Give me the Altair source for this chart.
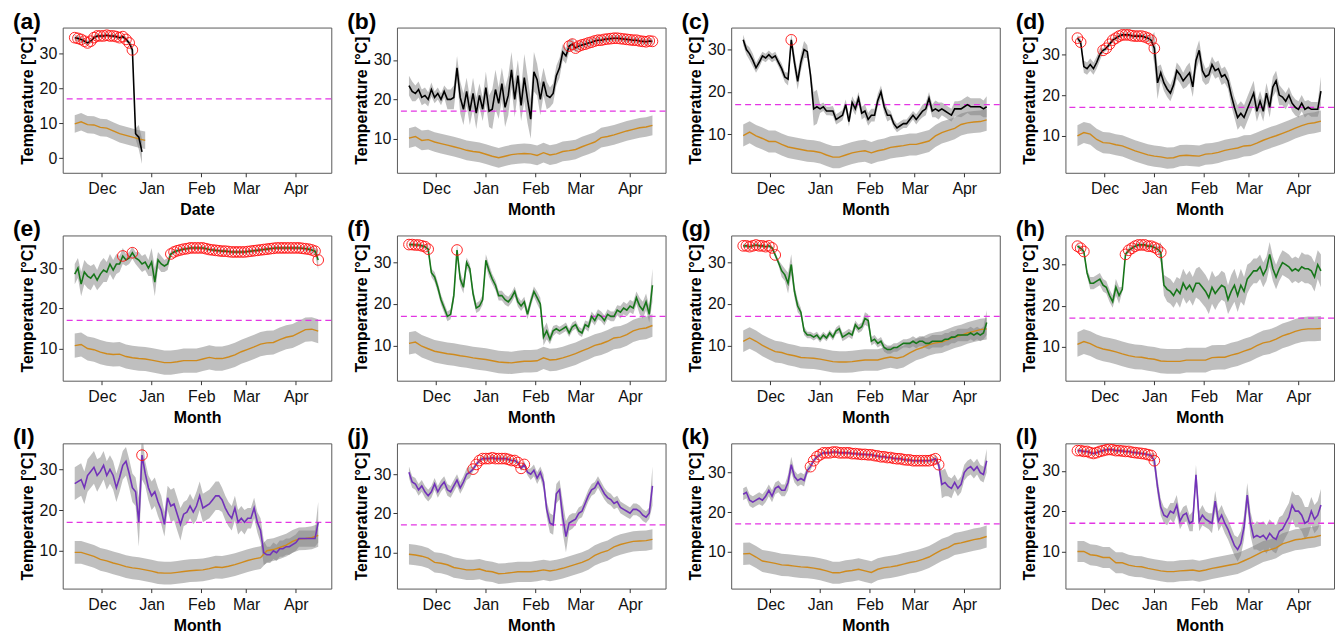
import altair as alt
import pandas as pd

START = "2018-11-14"
PANEL_LABELS = ["(a)", "(b)", "(c)", "(d)", "(e)", "(f)", "(g)", "(h)", "(I)", "(j)", "(k)", "(l)"]
X_TITLES = ["Date"] + ["Month"] * 11
LINE_COLORS = ["#000000"] * 4 + ["#17761a"] * 4 + ["#7232b9"] * 4
MONTH_TICKS = [(2018, 12), (2019, 1), (2019, 2), (2019, 3), (2019, 4)]
THRESHOLD = 17

# ---- logger temperature, every 2 days from 14 Nov ----
temp_a = [34.5, 34.3, 34, 33.5, 33, 33.5, 34.5, 35, 35, 35, 35.2, 35, 35, 34.8, 34.5, 34.8, 34, 33, 31, 7, 6, 1.8]
temp_b = [23.5, 22, 21.5, 22.5, 20.5, 21, 20, 22.5, 20.5, 21.5,
          20, 22, 20, 20, 20.5, 28, 20.5, 17.5, 22, 17,
          21.5, 16.5, 21, 17.5, 23, 17, 17.5, 22.5, 19, 24,
          18, 21, 27.5, 20, 26, 18.5, 25.5, 20, 15, 27,
          25, 20, 24.5, 21, 20.5, 21.5, 26, 28, 32, 31,
          33.5, 34, 33, 33.5, 33.8, 34, 34.3, 34.5, 34.8, 35,
          35, 35.2, 35.3, 35.4, 35.5, 35.5, 35.4, 35.3, 35.2, 35.1,
          35, 35, 34.8, 34.7, 34.6, 34.8, 34.7]
temp_c = [32.3, 30, 29, 27.5, 25.7, 27, 28.5, 28, 28.8, 28,
          28.5, 27, 25.5, 23.5, 23, 32.3, 27, 22.5, 27, 30,
          29.5, 24, 16, 16.5, 16, 16.5, 15.5, 15.5, 15.5, 13.5,
          14, 14.5, 17, 13, 17.5, 16, 18.5, 15, 15.5, 13.5,
          14.5, 14.5, 18, 20, 16.5, 14.5, 14.5, 12.5, 11.5, 12,
          12.5, 12.5, 13.5, 14.5, 13.5, 14.5, 15.5, 16, 18.5, 15.5,
          16, 15.5, 16, 15.5, 15, 14.5, 16, 16, 16, 16.5,
          17, 16.5, 16.5, 16.5, 16.5, 16, 16.5]
temp_d = [34, 33, 27, 26.5, 27.5, 26.5, 28, 30, 31, 31.5,
          32.5, 33.5, 34, 34.5, 34.8, 34.8, 34.8, 34.6, 34.5, 34.5,
          34.5, 34.3, 34, 33.5, 31.5, 23, 25.5, 23, 21.5, 20.5,
          22.5, 26, 25, 23.5, 24.5, 25.5, 22, 28.5, 31, 26,
          24.5, 25, 27.5, 26, 26.5, 24.5, 25, 23.5, 20, 17,
          14.5, 15.5, 14.5, 16.5, 18.5, 20.5, 16, 18.5, 16, 20.5,
          17, 22, 23.5, 20, 19.5, 18.5, 20, 18, 17, 16.5,
          18, 16.5, 17, 16.5, 16.5, 16.5, 21]
temp_e = [28.5, 30, 26, 29, 28, 27.5, 28.5, 27, 28.5, 29.5,
          29, 31, 29.5, 31, 31, 33, 32, 32.5, 33.8, 32.5,
          32, 31, 31.5, 30, 31.5, 26.5, 32, 31, 30.5, 31,
          33.5, 34, 34.3, 34.5, 34.7, 34.8, 35, 35, 35, 35,
          35, 34.8, 34.6, 34.5, 34.4, 34.3, 34.2, 34.2, 34.1, 34,
          34, 34, 34, 34, 34.1, 34.2, 34.3, 34.4, 34.5, 34.6,
          34.7, 34.8, 34.9, 35, 35, 35, 35, 35, 35, 35,
          35, 34.9, 34.8, 34.7, 34.5, 34.2, 32]
temp_f = [34.3, 34.3, 34.2, 34.2, 34, 33.8, 33.2, 27.5, 26.5, 24,
          21, 19, 17, 17.5, 22, 33, 26, 24, 30, 28.5,
          22.5, 19, 19.5, 21, 30.5, 28, 26, 24.5, 22, 22,
          21, 20.5, 21.5, 23, 20.5, 19.5, 20.5, 17.5, 20.5, 23,
          21.5, 20, 12, 13.5, 11.5, 13.5, 14, 13.5, 14, 14.5,
          13, 14.5, 15, 13.5, 13, 15, 14.5, 17, 16, 17.5,
          17, 16, 17.5, 17, 17, 18.5, 18, 19, 18.5, 19.5,
          19, 21.5, 19.5, 18.5, 20.5, 17.5, 24.5]
temp_g = [34, 34, 33.8, 34, 34.2, 34, 34, 33.8, 34, 33.5,
          31.8, 30, 28, 27, 25, 29.5, 23, 19.5, 18, 13.5,
          12.5, 12.5, 12, 12.5, 11.5, 12.5, 11.8, 13, 12, 13.5,
          14, 12, 12.5, 13, 12.5, 15, 14, 14.5, 16.5, 16,
          11, 11.5, 10.5, 11, 9.5, 9, 9, 9.5, 9.5, 10,
          10.5, 10.5, 10.5, 11, 10.5, 11, 11, 10.5, 10.5, 11,
          11, 11, 11, 11.5, 11.5, 12, 12, 12.5, 12.5, 12.5,
          12.5, 13, 12.5, 13, 12.5, 13, 15.5]
temp_h = [34.5, 34, 33.2, 28, 25.5, 25.5, 26, 26.5, 25, 24.5,
          22.5, 21, 24.5, 22.5, 24, 32.5, 33.5, 34, 34.5, 34.8,
          34.8, 34.8, 34.5, 34.5, 34.2, 33.8, 33, 25, 24, 23.5,
          22.5, 24, 23, 25.5, 24, 25, 23.5, 25.5, 25.5, 24.5,
          23.5, 22, 24.5, 23, 24, 25, 24.5, 21.5, 23.5, 25,
          22.5, 25, 23.5, 26.5, 27.5, 28.5, 28.5, 29.5, 27.5, 29,
          32.5, 29, 27, 29, 30.5, 30, 29.5, 28.5, 29, 28.5,
          29.5, 29, 29, 28.5, 27, 30, 28.5]
temp_i = [26.5, 27, 27.5, 25.5, 28.5, 29.5, 30.5, 28.5, 29.5, 31,
          28.5, 30, 28.5, 25.5, 28, 31, 32, 29, 25.5, 24.5,
          17, 33.5, 29, 25.5, 23.5, 24.5, 22, 20, 16.5, 23,
          21, 21.5, 19, 16.5, 19, 19.5, 21, 19.5, 21, 23.5,
          20.5, 21, 21.5, 22.5, 23.5, 23.5, 22.5, 20.5, 19, 18,
          20.5, 17, 18, 17, 18, 18, 20.5, 17, 15, 9.5,
          9, 9, 10, 9.5, 10.5, 10.5, 11, 11, 11.5, 12,
          13, 13, 13, 13, 13, 13, 17]
temp_j = [30.5, 28, 27.5, 26, 27, 25.5, 24.5, 25.5, 27.5, 25.5,
          27, 28, 26, 25.5, 27, 28.5, 26.5, 28, 30, 30.5,
          31.3, 32.5, 33.5, 34, 34, 34, 34.2, 34, 34, 34,
          34, 33.8, 33.5, 33.5, 33, 31.5, 32.5, 30.5, 30, 31,
          29, 30.5, 28, 21, 17.5, 17, 25, 26, 19, 14,
          17.5, 18, 18.5, 20, 20.5, 22.5, 24.5, 26, 26.5, 28,
          26.5, 25, 24, 23.5, 22.5, 23, 21.5, 21, 20.5, 20,
          21, 21, 20.5, 19.5, 19, 20, 27]
temp_k = [24.5, 25, 23, 22.5, 23, 23.5, 23, 24, 25.5, 24,
          26, 26.5, 25.5, 25.5, 27.5, 32, 29, 28, 28.5, 28,
          30.5, 31.5, 33, 34, 34.5, 35, 35, 35, 35.2, 35.2,
          35, 35, 35, 35, 34.8, 34.8, 34.7, 34.6, 34.6, 34.5,
          34.5, 34.3, 34.2, 34, 34, 33.8, 33.8, 33.6, 33.5, 33.5,
          33.3, 33.2, 33.2, 33, 33, 33, 33, 33, 33, 33.2,
          33.5, 32, 27, 27.5, 26.5, 26, 27.5, 26, 27, 30,
          31, 31.5, 30.5, 31.5, 30, 29.5, 33]
temp_l = [35, 35, 34.8, 34.8, 34.5, 34.3, 34.5, 34.8, 35, 35.2,
          35.3, 35.2, 35, 35, 34.9, 34.8, 34.8, 34.6, 34.5, 34.4,
          34.3, 34.2, 34, 33.8, 32.5, 26, 21, 19, 18.5, 20,
          19.5, 21.5, 17.5, 19, 19.5, 17, 17.5, 29, 17.5, 19,
          18, 17.5, 17, 22.5, 17.5, 19, 17, 15.5, 13.5, 11.5,
          10.5, 12, 16, 24, 17, 13.5, 14, 13.5, 14, 13,
          14.5, 13.5, 13, 15, 15.5, 17, 18.5, 21.5, 20, 20,
          19, 17, 17.5, 20, 18, 19, 21.5]

# ---- half-width of the grey band around the logger series, per 4-day block ----
spread_a = [0.8, 0.8, 0.7, 0.6, 0.6, 0.6, 0.6, 0.6, 0.7, 1.5, 3.5]
spread_b = [2.5, 2, 2, 1.8, 1.5, 1.5, 2.5, 3, 4, 3.5, 4, 3, 4, 5, 4, 5, 4.5, 4, 6, 5,
            4, 3.5, 2.5, 2.5, 2, 1.5, 1, 0.8, 0.8, 0.8, 0.7, 0.7, 0.7, 0.7, 0.7, 0.7, 0.7, 0.7, 0.8]
spread_c = [1.2, 1.5, 1.2, 1, 1, 1, 1.2, 1.5, 2, 2, 1.5, 4, 1, 1, 1.2, 1.2, 1.2, 1.5, 1.5, 1.5,
            1.5, 1.5, 1.5, 1, 1, 1, 1, 1.2, 1.5, 1.5, 2, 1.5, 1.5, 1.8, 2, 2, 2, 2, 2.5]
spread_d = [0.8, 1.5, 1.5, 1.5, 0.6, 0.6, 0.6, 0.6, 0.6, 0.6, 0.6, 0.8, 4, 2, 2, 2, 2, 2.5, 2.5, 2.5,
            2, 2, 2, 2, 2.5, 3, 3, 3, 2.5, 2.5, 2.5, 2.5, 2, 2, 2, 2, 1.8, 1.8, 3.5]
spread_e = [2.5, 3, 3, 2.5, 3, 2.5, 2.5, 2, 1.5, 1.5, 2, 2, 3.5, 2, 1.5, 0.6, 0.5, 0.5, 0.5, 0.5,
            0.5, 0.5, 0.5, 0.5, 0.5, 0.5, 0.5, 0.5, 0.5, 0.5, 0.5, 0.5, 0.5, 0.5, 0.5, 0.5, 0.6, 0.8, 2.5]
spread_f = [0.5, 0.5, 0.5, 1, 1.2, 1.2, 1.2, 1.5, 1.5, 1.2, 1.2, 1.2, 1.5, 1.2, 1.2, 1.2, 1.2, 1.2, 1.2, 1.2,
            1.5, 2, 1.2, 1, 1, 1, 1, 1, 1.2, 1.2, 1.2, 1.2, 1.2, 1.5, 1.5, 1.5, 2, 2, 4]
spread_g = [0.5, 0.5, 0.5, 0.5, 0.5, 0.6, 1.5, 2.5, 1.5, 1, 0.8, 0.8, 0.8, 0.8, 0.8, 1, 1, 1, 1, 1.5,
            1, 1, 1, 1, 1, 1, 1.2, 1.2, 1.2, 1.5, 1.5, 1.5, 1.5, 1.5, 1.5, 1.5, 1.5, 1.5, 3]
spread_h = [0.6, 0.8, 1.5, 1.5, 1.5, 1.5, 2, 0.6, 0.6, 0.6, 0.6, 0.6, 0.6, 2.5, 3, 3, 3.5, 3.5, 3.5, 4,
            4, 4, 3.5, 3.5, 4, 4, 3.5, 3, 3, 3, 3, 3, 3, 3, 3, 3.5, 3.5, 3.5, 4]
spread_i = [4, 4, 4, 4, 3.5, 3.5, 3.5, 3.5, 3.5, 3.5, 6, 3, 3.5, 3.5, 3, 4, 4, 3, 3, 3.5,
            3.5, 3.5, 3.5, 3, 3, 3, 3, 2.5, 2.5, 3, 2, 2, 2, 2, 2, 2, 2, 2, 5]
spread_j = [1.5, 1.5, 1.5, 1.5, 1.5, 1.5, 1.5, 1.5, 1.5, 1.5, 0.6, 0.6, 0.6, 0.6, 0.6, 0.6, 0.6, 0.6, 0.8, 1.5,
            1.5, 2, 2.5, 2.5, 4, 2, 1.5, 1.5, 1.5, 1.5, 1.5, 1.5, 1.5, 1.5, 1.5, 1.5, 1.5, 1.5, 5]
spread_k = [1.5, 1.5, 1.5, 1.5, 1.5, 1.5, 1.5, 2, 1.5, 1.5, 1, 0.6, 0.5, 0.5, 0.5, 0.5, 0.5, 0.5, 0.5, 0.5,
            0.5, 0.5, 0.5, 0.5, 0.5, 0.5, 0.5, 0.5, 0.5, 0.5, 0.8, 3.5, 2.5, 2, 2, 2, 2, 2, 3]
spread_l = [0.5, 0.5, 0.5, 0.5, 0.5, 0.5, 0.5, 0.5, 0.5, 0.5, 0.5, 0.5, 2, 2, 2, 2.5, 2, 2, 2.5, 2.5,
            2, 2.5, 2.5, 2.5, 2.5, 3, 3, 3, 3.5, 3.5, 3.5, 3.5, 3.5, 3.5, 4, 4, 3.5, 3.5, 4]

# ---- ambient temperature, every 4 days from 14 Nov ----
amb_a = [9.8, 10.4, 9.6, 9.5, 8.8, 8.6, 7.8, 7, 6.5, 6, 5.5, 5.1]
amb_b = [10.2, 10.6, 9.6, 9.8, 9.2, 8.8, 8.4, 8, 7.6, 7.1, 6.8, 6.6, 6.1, 5.6, 5.2, 5.6, 6, 6.2, 6.3, 6.2,
         5.8, 6.5, 5.9, 6.2, 6.8, 7, 7.3, 8, 8.6, 9.2, 10.3, 10.6, 11, 11.5, 12, 12.4, 12.8, 13, 13.4]
amb_c = [9.7, 10.5, 9.6, 9, 8.3, 8.3, 7.6, 7, 6.7, 6.4, 6.1, 6, 5.7, 5.1, 4.6, 4.6, 5.1, 5.6, 5.9, 6.1,
         5.6, 6.1, 6.4, 6.9, 7.1, 7.3, 7.6, 7.6, 8, 8.4, 9.6, 10.4, 10.9, 11.4, 12.3, 12.7, 12.9, 13, 13.4]
amb_d = [10, 10.8, 10.4, 9.1, 8.3, 8.2, 7.8, 7.5, 6.9, 6.3, 5.8, 5.3, 5, 4.8, 4.5, 4.6, 5.1, 5.2, 5.1, 5,
         5.5, 5.6, 5.9, 6.4, 6.7, 7, 7.5, 7.6, 8.2, 8.9, 9.5, 10, 10.6, 11.2, 11.9, 12.5, 13, 13.2, 13.6]
amb_e = [10.7, 11, 10, 9.7, 9.1, 8.7, 8.5, 8.6, 8, 7.7, 7.5, 7.4, 7.1, 6.8, 6.5, 6.5, 6.7, 7, 7, 7,
         7.4, 7.8, 7.5, 7.5, 7.9, 8.4, 9.2, 9.8, 10.4, 11.1, 11.4, 11.5, 12.2, 12.8, 13.1, 13.9, 14.7, 14.8, 14.3]
amb_f = [10.5, 10.8, 9.8, 9.2, 8.6, 8.3, 8, 7.8, 7.5, 7.3, 7, 6.8, 6.6, 6.3, 6, 5.9, 5.8, 6, 6.2, 6.2,
         6.3, 7, 6.5, 6.6, 7, 7.5, 8, 8.7, 9.3, 10, 10.4, 11, 11.8, 12, 12.6, 13.5, 14, 14.2, 14.8]
amb_g = [11, 11.8, 11, 10, 9.2, 8.5, 8.3, 7.8, 7.5, 7.1, 7, 6.9, 6.7, 6.4, 6.1, 6, 6, 6.1, 6.3, 6.5,
         6.5, 6.5, 6.9, 7.2, 6.9, 7.3, 8.2, 9, 9.5, 10.2, 10.6, 10.8, 11.4, 12, 12.4, 13, 13.4, 13.8, 14]
amb_h = [10.6, 11.3, 10.8, 10, 9.5, 9.2, 8.8, 8.3, 7.9, 7.6, 7.5, 7.2, 7, 6.6, 6.5, 6.5, 6.5, 6.8, 6.8, 6.8,
         6.8, 7.4, 7.5, 7.5, 8, 8.4, 9, 9.5, 10.3, 11, 11.3, 11.9, 12.7, 13.2, 13.8, 14.2, 14.4, 14.4, 14.5]
amb_i = [9.6, 9.6, 9.1, 8.6, 7.9, 7.5, 7, 6.6, 6.1, 5.8, 5.6, 5.3, 5, 4.6, 4.5, 4.5, 4.7, 4.9, 5.1, 5.2,
         5.3, 5.6, 6, 5.9, 6.2, 6.6, 7.1, 7.6, 8, 8.3, 10, 10.3, 10.8, 11.4, 12.3, 12.9, 13, 13.2, 13.8]
amb_j = [9.5, 9.3, 9, 8.5, 7.4, 7.2, 6.8, 6.1, 5.8, 5.5, 5.5, 5.7, 5.2, 5, 4.5, 4.6, 4.8, 5, 5, 5,
         5.2, 5.5, 5.2, 5.5, 5.9, 6.4, 6.9, 7.4, 8.1, 9.2, 9.9, 10.4, 11.4, 12, 12.4, 12.8, 12.9, 13, 13.3]
amb_k = [9.4, 9.5, 8.6, 7.6, 7.3, 7, 6.6, 6.5, 6.3, 6.1, 6, 5.8, 5.5, 5.1, 4.6, 4.6, 5, 5.2, 5.5, 5.1,
         4.7, 5.5, 5.9, 6.1, 6.4, 6.8, 7.2, 7.5, 8, 8.6, 9.5, 10.4, 11, 11.9, 12.2, 12.6, 13, 13.3, 13.8]
amb_l = [10, 10, 9.2, 9, 8.5, 8.5, 7.2, 7.2, 6.6, 6.3, 6.2, 5.8, 5.5, 5.2, 5, 5, 5.2, 5.3, 5.4, 5.1,
         5.4, 5.8, 6.1, 6.4, 6.7, 7, 7.7, 8.4, 9.2, 10, 10.4, 10.9, 11.9, 12.4, 12.9, 13.1, 13.4, 13.6, 14]
amb_spread = [2.5, 2.5, 2.6, 2.6, 3.0, 2.7, 2.6, 3.0, 2.8, 2.6, 2.8, 2.6]

# ---- index ranges of the logger series marked with red circles ----
circ_a = [(0, 18)]
circ_b = [(50, 76)]
circ_c = [(15, 15)]
circ_d = [(0, 1), (8, 24)]
circ_e = [(15, 15), (18, 18), (30, 76)]
circ_f = [(0, 6), (15, 15)]
circ_g = [(0, 10)]
circ_h = [(0, 2), (15, 26)]
circ_i = [(21, 21)]
circ_j = [(20, 36)]
circ_k = [(21, 61)]
circ_l = [(0, 24)]

y_domains = [[-4.2, 37.4], [1.4, 38.2], [0.9, 35.2], [0.9, 36.6],
             [2.0, 38.1], [1.5, 36.5], [1.5, 36.5], [1.8, 37.1],
             [0.7, 36.4], [0.7, 37.9], [0.6, 37.4], [0.8, 36.8]]

TEMPS = [temp_a, temp_b, temp_c, temp_d, temp_e, temp_f, temp_g, temp_h, temp_i, temp_j, temp_k, temp_l]
SPREADS = [spread_a, spread_b, spread_c, spread_d, spread_e, spread_f, spread_g, spread_h,
           spread_i, spread_j, spread_k, spread_l]
AMBS = [amb_a, amb_b, amb_c, amb_d, amb_e, amb_f, amb_g, amb_h, amb_i, amb_j, amb_k, amb_l]
CIRCS = [circ_a, circ_b, circ_c, circ_d, circ_e, circ_f, circ_g, circ_h, circ_i, circ_j, circ_k, circ_l]

FONT = "Liberation Sans"
W, H = 270, 146
BAND = "#808080"


def panel(n):
    t = TEMPS[n]
    sp = SPREADS[n]
    amb = AMBS[n]
    dates = pd.date_range(START, periods=len(t), freq="2D")
    main = pd.DataFrame({
        "date": dates, "t": t,
        "lo": [v - sp[i // 2] for i, v in enumerate(t)],
        "hi": [v + sp[i // 2] for i, v in enumerate(t)],
    })
    adates = pd.date_range(START, periods=len(amb), freq="4D")
    ad = pd.DataFrame({
        "date": adates, "a": amb,
        "lo": [v - amb_spread[n] for v in amb],
        "hi": [v + amb_spread[n] for v in amb],
    })
    idx = [i for (s, e) in CIRCS[n] for i in range(s, e + 1) if i < len(t)]
    circ = main.iloc[idx]

    xs = alt.Scale(domain=[alt.DateTime(year=2018, month=11, date=6, hours=12),
                           alt.DateTime(year=2019, month=4, date=23, hours=4)])
    xax = alt.Axis(values=[alt.DateTime(year=y, month=m, date=1) for y, m in MONTH_TICKS],
                   format="%b", title=X_TITLES[n])
    X = alt.X("date:T", scale=xs, axis=xax)
    ys = alt.Scale(domain=y_domains[n], nice=False, zero=False)
    yvals = [0, 10, 20, 30] if y_domains[n][0] < 0 else [10, 20, 30]
    yax = alt.Axis(values=yvals, title="Temperature [°C]")

    amb_band = alt.Chart(ad).mark_area(color=BAND, opacity=0.5, clip=True).encode(
        x=X, y=alt.Y("lo:Q", scale=ys, axis=yax), y2="hi:Q")
    main_band = alt.Chart(main).mark_area(color=BAND, opacity=0.5, clip=True).encode(
        x=X, y=alt.Y("lo:Q", scale=ys, axis=yax), y2="hi:Q")
    rule = alt.Chart(pd.DataFrame({"v": [THRESHOLD]})).mark_rule(
        color="#e335e3", strokeDash=[6, 4], strokeWidth=1.3).encode(
        y=alt.Y("v:Q", scale=ys, axis=yax))
    amb_line = alt.Chart(ad).mark_line(color="#cf8a1c", strokeWidth=1.4, clip=True).encode(
        x=X, y=alt.Y("a:Q", scale=ys, axis=yax))
    main_line = alt.Chart(main).mark_line(color=LINE_COLORS[n], strokeWidth=1.6, clip=True).encode(
        x=X, y=alt.Y("t:Q", scale=ys, axis=yax))
    circles = alt.Chart(circ).mark_point(shape="circle", color="#ff1010", filled=False,
                                         size=115, strokeWidth=1.0, opacity=0.9, clip=True).encode(
        x=X, y=alt.Y("t:Q", scale=ys, axis=yax))
    label = alt.Chart(pd.DataFrame({"lab": [PANEL_LABELS[n]]})).mark_text(
        align="left", baseline="top", fontSize=23, fontWeight="bold", font=FONT, color="#000").encode(
        text="lab:N", x=alt.value(-50), y=alt.value(-17))
    return alt.layer(amb_band, main_band, rule, amb_line, main_line, circles, label).properties(
        width=W, height=H)


chart = alt.concat(*[panel(n) for n in range(12)], columns=4,
                   spacing=alt.RowColnumber(row=63, column=66), bounds="flush").configure(
    font=FONT, padding={"left": 4, "top": 0, "right": 0, "bottom": 0}
).configure_axis(
    labelFont=FONT, titleFont=FONT, labelFontSize=16, titleFontSize=16, titleFontWeight="bold",
    labelColor="#111", titleColor="#000", tickColor="#333", tickSize=4, domain=False, grid=False
).configure_axisX(labelPadding=4, titlePadding=5).configure_axisY(labelPadding=2, titlePadding=4
).configure_view(stroke="#5a5a5a", strokeWidth=1)

chart.save("out.html", embed_options={"renderer": "svg", "actions": False})
